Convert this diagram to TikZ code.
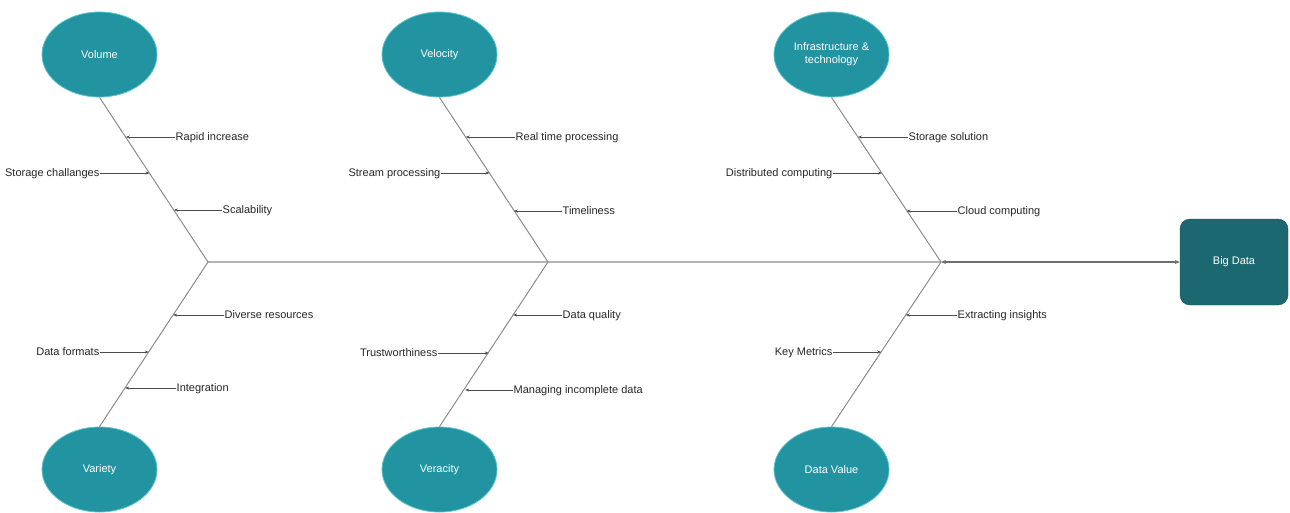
\documentclass[tikz,border=0pt]{standalone}
\usepackage{fontspec}
\setmainfont{Liberation Sans}
\usetikzlibrary{shapes.geometric,arrows.meta,calc}
\definecolor{tealfill}{HTML}{2293A0}
\definecolor{tealedge}{HTML}{5CC4CC}
\definecolor{boxfill}{HTML}{1C6870}
\definecolor{bonegray}{HTML}{8C8C8C}
\definecolor{spinegray}{HTML}{B4B4B4}
\definecolor{arrowgray}{HTML}{6E6E6E}
\tikzset{
  cat/.style={ellipse, draw=tealedge, line width=0.8pt, fill=tealfill, text=white,
    minimum width=115pt, minimum height=85pt, inner sep=0pt, font=\fontsize{11}{13}\selectfont, align=center},
  bigbox/.style={rectangle, rounded corners=10pt, draw=boxfill!80!black, fill=boxfill, text=white,
    minimum width=108pt, minimum height=86pt, font=\fontsize{11}{13}\selectfont},
  lbl/.style={inner sep=0.5pt, text height=6pt, text depth=0pt, font=\fontsize{11}{13}\selectfont, text=black!85},
  bone/.style={draw=bonegray, line width=1pt},
  spine/.style={draw=spinegray, line width=1.6pt},
  mainarrow/.style={draw=arrowgray, line width=1.6pt, {Stealth[length=5pt,width=4pt]}-{Stealth[length=5pt,width=4pt]}},
  sub/.style={draw=black!70, line width=0.7pt, -{Stealth[length=4pt,width=3pt]}}
}
\begin{document}
\begin{tikzpicture}[x=1pt,y=-1pt]
\useasboundingbox (0,0) rectangle (1290,512);
% category ellipses
\node[cat] (vol) at (99.5,54.5) {Volume};
\node[cat] (vel) at (439.5,54.5) {Velocity};
\node[cat] (inf) at (831.5,54.5) {Infrastructure \&\\technology};
\node[cat] (var) at (99.5,469.5) {Variety};
\node[cat] (ver) at (439.5,469.5) {Veracity};
\node[cat] (dv) at (831.5,469.5) {Data Value};
\node[bigbox] (bd) at (1234,262) {Big Data};
% junctions
\coordinate (j1) at (208,262);
\coordinate (j2) at (548,262);
\coordinate (j3) at (941,262);
% spine
\draw[spine] (j1) -- (j2) -- (j3);
\draw[mainarrow] (j3) -- (bd.west);
% bones
\draw[bone] (vol.south) -- (j1) -- (var.north);
\draw[bone] (vel.south) -- (j2) -- (ver.north);
\draw[bone] (inf.south) -- (j3) -- (dv.north);
% points on bones (top: t from ellipse, bottom: t from junction)
\foreach \e/\j/\b in {vol/j1/v, vel/j2/w, inf/j3/i}{
  \coordinate (\b1) at ($(\e.south)!0.2424!(\j)$);
  \coordinate (\b2) at ($(\e.south)!0.4606!(\j)$);
  \coordinate (\b3) at ($(\e.south)!0.6848!(\j)$);
}
\foreach \e/\j/\b in {var/j1/a, ver/j2/b, dv/j3/c}{
  \coordinate (\b1) at ($(\j)!0.3212!(\e.north)$);
  \coordinate (\b2) at ($(\j)!0.5455!(\e.north)$);
  \coordinate (\b3) at ($(\j)!0.7636!(\e.north)$);
}
% Volume
\node[lbl, anchor=west] (t1) at (175,137) {Rapid increase};
\node[lbl, anchor=east] (t2) at (100,173) {Storage challanges};
\node[lbl, anchor=west] (t3) at (222,210) {Scalability};
\draw[sub] (t1.west) -- (t1.west -| v1);
\draw[sub] (t2.east) -- (t2.east -| v2);
\draw[sub] (t3.west) -- (t3.west -| v3);
% Variety
\node[lbl, anchor=west] (t4) at (224,315) {Diverse resources};
\node[lbl, anchor=east] (t5) at (100,352) {Data formats};
\node[lbl, anchor=west] (t6) at (176,388) {Integration};
\draw[sub] (t4.west) -- (t4.west -| a1);
\draw[sub] (t5.east) -- (t5.east -| a2);
\draw[sub] (t6.west) -- (t6.west -| a3);
% Velocity
\node[lbl, anchor=west] (t7) at (515,137) {Real time processing};
\node[lbl, anchor=east] (t8) at (441,173) {Stream processing};
\node[lbl, anchor=west] (t9) at (562,211) {Timeliness};
\draw[sub] (t7.west) -- (t7.west -| w1);
\draw[sub] (t8.east) -- (t8.east -| w2);
\draw[sub] (t9.west) -- (t9.west -| w3);
% Veracity
\node[lbl, anchor=west] (t10) at (562,315) {Data quality};
\node[lbl, anchor=east] (t11) at (438,353) {Trustworthiness};
\node[lbl, anchor=west] (t12) at (513,390) {Managing incomplete data};
\draw[sub] (t10.west) -- (t10.west -| b1);
\draw[sub] (t11.east) -- (t11.east -| b2);
\draw[sub] (t12.west) -- (t12.west -| b3);
% Infrastructure
\node[lbl, anchor=west] (t13) at (908,137) {Storage solution};
\node[lbl, anchor=east] (t14) at (833,173) {Distributed computing};
\node[lbl, anchor=west] (t15) at (957,211) {Cloud computing};
\draw[sub] (t13.west) -- (t13.west -| i1);
\draw[sub] (t14.east) -- (t14.east -| i2);
\draw[sub] (t15.west) -- (t15.west -| i3);
% Data Value
\node[lbl, anchor=west] (t16) at (957,315) {Extracting insights};
\node[lbl, anchor=east] (t17) at (833,352) {Key Metrics};
\draw[sub] (t16.west) -- (t16.west -| c1);
\draw[sub] (t17.east) -- (t17.east -| c2);
\end{tikzpicture}
\end{document}
